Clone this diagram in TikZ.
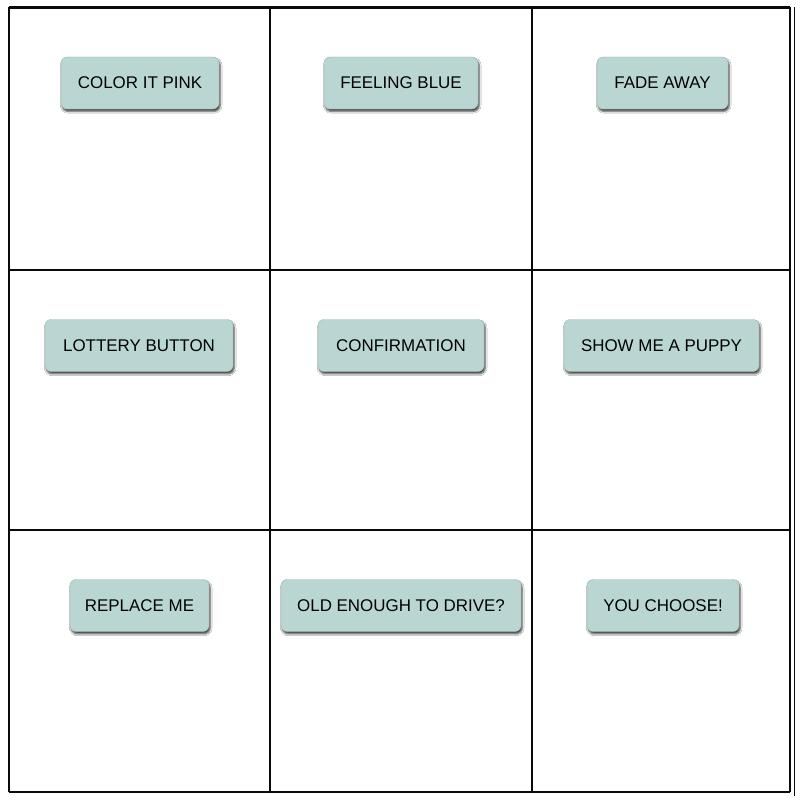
\documentclass[tikz,border=0pt]{standalone}
\usepackage{fontspec}
\setmainfont{Liberation Sans}
\usetikzlibrary{shadows.blur}
\definecolor{btnfill}{RGB}{186,214,210}
\definecolor{gridline}{RGB}{10,10,10}
\tikzset{
  btn/.style={draw=btnfill!85!black, line width=0.4bp, fill=btnfill, rounded corners=6bp,
    minimum height=52bp, inner sep=0pt, text=black,
    font=\fontsize{17}{20}\selectfont,
    blur shadow={shadow xshift=1.2bp, shadow yshift=-2.4bp, shadow blur steps=6, shadow blur radius=1.8bp, shadow opacity=75}},
  gline/.style={draw=gridline, line width=2.5bp},
  thinline/.style={draw=gridline, line width=1.3bp}
}
\begin{document}
\begin{tikzpicture}[x=1bp,y=-1bp]
\useasboundingbox (0,0) rectangle (800,800);
\fill[white] (0,0) rectangle (800,800);
% grid corners
\coordinate (tl) at (9,7.5);
\coordinate (tr) at (790,7.5);
\coordinate (bl) at (9,792);
\coordinate (br) at (790,792);
\coordinate (c1t) at (270,7.5);
\coordinate (c1b) at (270,792);
\coordinate (c2t) at (532,7.5);
\coordinate (c2b) at (532,792);
\coordinate (r1l) at (9,270);
\coordinate (r1r) at (790,270);
\coordinate (r2l) at (9,530);
\coordinate (r2r) at (790,530);
\coordinate (ot) at (794.5,7.5);
\coordinate (ob) at (794.5,796);
\draw[gline] (tl) -- (tr);
\draw[gline] (tl) -- (bl);
\draw[gline] (bl) -- (br);
\draw[thinline] (tr) -- (br);
\draw[thinline] (ot) -- (ob);
\draw[gline] (c1t) -- (c1b);
\draw[gline] (c2t) -- (c2b);
\draw[gline] (r1l) -- (r1r);
\draw[gline] (r2l) -- (r2r);
% buttons
\node[btn, minimum width=158bp] (b1) at (140,83) {COLOR IT PINK};
\node[btn, minimum width=154bp] (b2) at (401,83) {FEELING BLUE};
\node[btn, minimum width=131bp] (b3) at (662.5,83) {FADE AWAY};
\node[btn, minimum width=188bp] (b4) at (139,345.5) {LOTTERY BUTTON};
\node[btn, minimum width=166bp] (b5) at (401,345.5) {CONFIRMATION};
\node[btn, minimum width=195bp] (b6) at (661.5,345.5) {SHOW ME A PUPPY};
\node[btn, minimum width=139bp] (b7) at (139.5,605.5) {REPLACE ME};
\node[btn, minimum width=240bp] (b8) at (401,605.5) {OLD ENOUGH TO DRIVE?};
\node[btn, minimum width=152bp] (b9) at (663,605.5) {YOU CHOOSE!};
\end{tikzpicture}
\end{document}
